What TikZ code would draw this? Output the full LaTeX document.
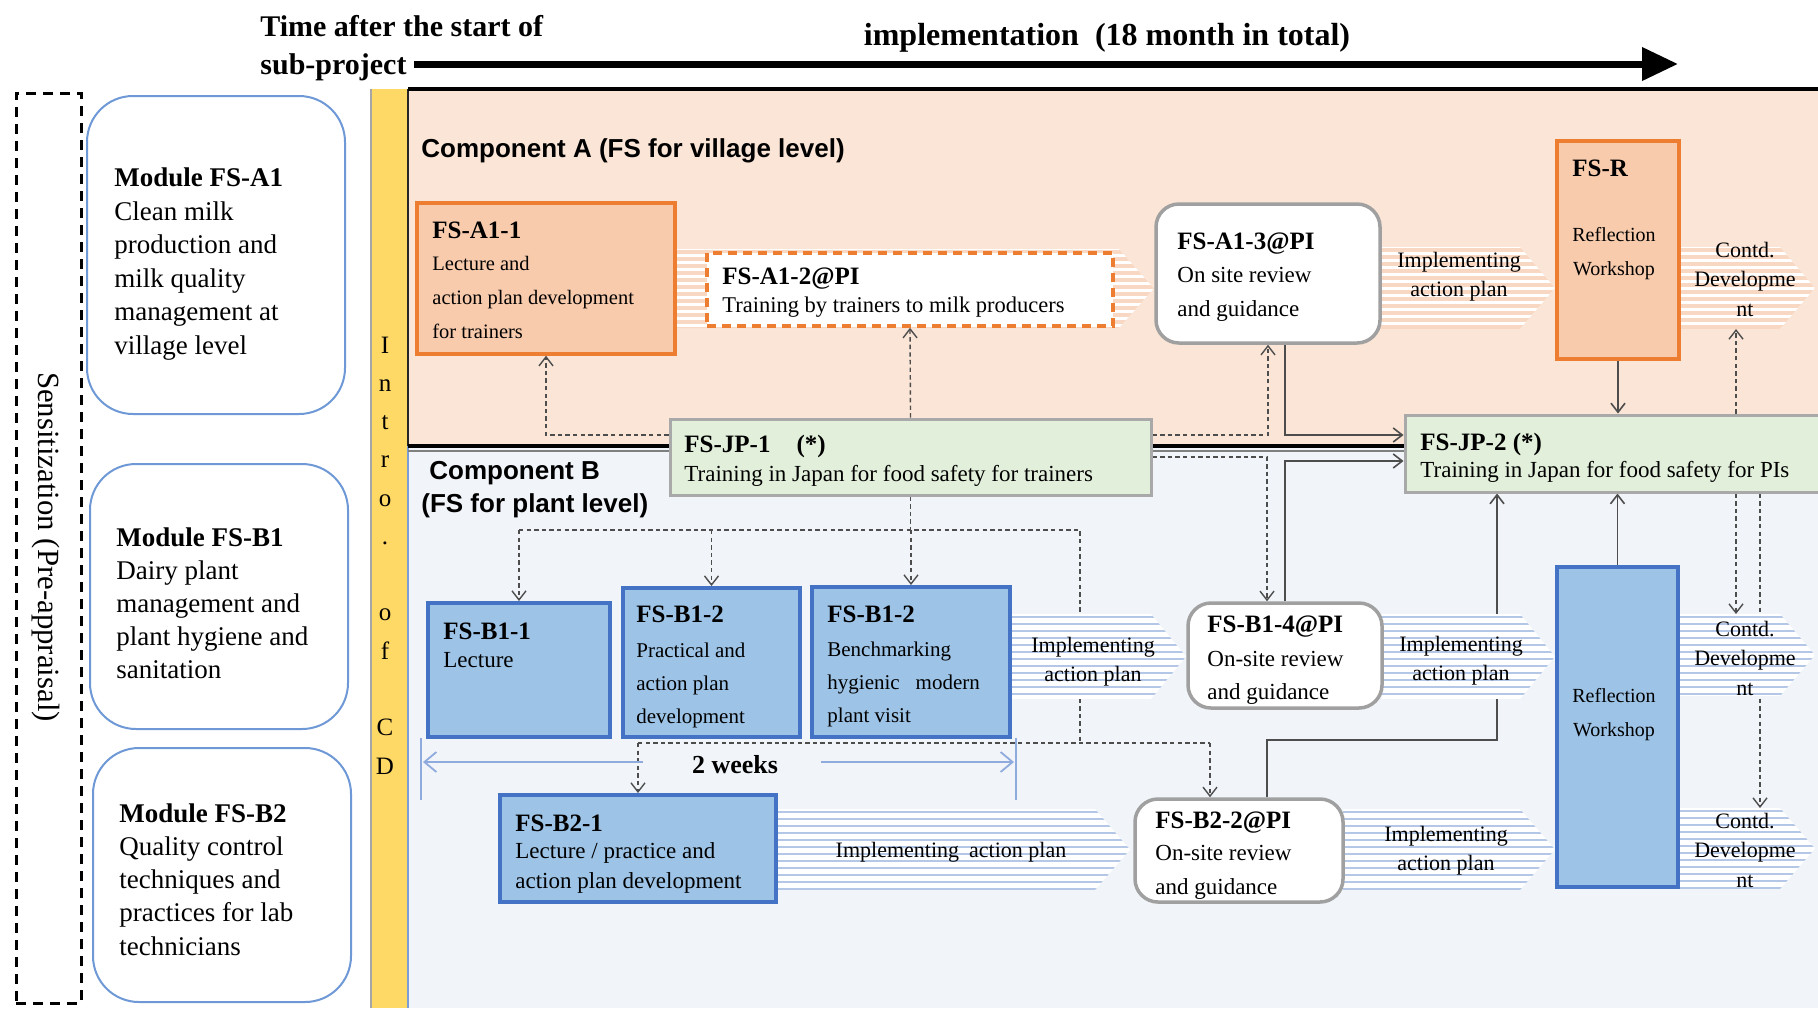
\documentclass[tikz,border=0pt]{standalone}
\usepackage{fontspec}
\setmainfont{Liberation Serif}
\setsansfont{Liberation Sans}
\usetikzlibrary{arrows.meta}

\definecolor{pinkP}{HTML}{FBE5D6}
\definecolor{blueP}{HTML}{F1F5FA}
\definecolor{yellowP}{HTML}{FFD966}
\definecolor{orangeB}{HTML}{ED7D31}
\definecolor{orangeF}{HTML}{F8CBAD}
\definecolor{greenF}{HTML}{E2EFDA}
\definecolor{grayG}{HTML}{A9A9A9}
\definecolor{grayB}{HTML}{A0A0A0}
\definecolor{blueF}{HTML}{9DC3E6}
\definecolor{blueB}{HTML}{4472C4}
\definecolor{modB}{HTML}{6E98D6}
\definecolor{weekC}{HTML}{8FAADC}
\definecolor{linkC}{HTML}{4D4D4D}
\definecolor{stripeB}{HTML}{B4C7E7}
\definecolor{stripeP}{HTML}{F9D8C3}

\pgfdeclarelayer{panels}
\pgfdeclarelayer{links}
\pgfsetlayers{panels,links,main}

\newcommand\fsz[2]{\fontsize{#1}{#2}\selectfont}
% box node spanning corner (#3,#4) to corner (#5,#6), pixel units
\newcommand\boxat[6]{\node[#1,inner sep=0pt,minimum width={(#5-#3)*0.5pt},minimum height={(#6-#4)*0.5pt}] (#2) at ({(#3+#5)/2},{(#4+#6)/2}) {};}
% striped arrow band: #1 ground, #2 stripe style, x from #3 to tip #4, y from #5 to #6
\newcommand\stripeband[6]{%
  \begin{scope}
    \clip (#3,#5) -- ({#4-35},#5) -- (#4,{(#5+#6)/2}) -- ({#4-35},#6) -- (#3,#6) -- cycle;
    \fill[#1] (#3,#5) rectangle (#4,#6);
    \foreach \k in {0,...,13}{\draw[#2] (#3,{#5+3+7*\k}) -- (#4,{#5+3+7*\k});}
  \end{scope}}

\begin{document}
\begin{tikzpicture}[x=0.5pt,y=-0.5pt,
  >={Straight Barb[length=4.5pt,width=7pt]},
  % multi-line text blocks are placed by the baseline of their last line
  tx/.style={anchor=base west,inner sep=0pt,align=left},
  ttl/.style={tx,font=\bfseries\fsz{12.5}{15}},
  ctext/.style={inner sep=0pt,align=center,font=\fsz{11}{14.5}},
  modbox/.style={draw=modB,fill=white,line width=1pt,rounded corners=23pt},
  sensbox/.style={draw=black,line width=1.5pt,dash pattern=on 5pt off 3.5pt},
  orangebox/.style={draw=orangeB,fill=orangeF,line width=1.75pt},
  dashbox/.style={draw=orangeB,fill=white,line width=1.75pt,dash pattern=on 4.5pt off 3pt},
  whitebox/.style={draw=grayB,fill=white,line width=1.75pt,rounded corners=11.5pt},
  greenbox/.style={draw=grayG,fill=greenF,line width=1.5pt},
  bluebox/.style={draw=blueB,fill=blueF,line width=2pt},
  pinkband/.style={draw=stripeP,line width=1.6pt},
  blueband/.style={draw=stripeB,line width=1pt},
  dlink/.style={draw=linkC,line width=0.7pt,dash pattern=on 2.2pt off 1.6pt},
  slink/.style={draw=linkC,line width=0.8pt},
  weekline/.style={draw=weekC,line width=0.9pt},
  weekarrow/.style={weekline,-{Straight Barb[length=6pt,width=10pt]}},
]
\useasboundingbox (0,0) rectangle (1818,1008);

% ---------- panels ----------
\begin{pgfonlayer}{panels}
  \fill[pinkP] (408,89) rectangle (1818,446);
  \fill[blueP] (408,446) rectangle (1818,1008);
  \fill[yellowP] (371,89) rectangle (408,1008);
  \draw[gray!70,line width=0.8pt] (371,89) -- (371,1008);
  \draw[black!85,line width=1pt] (408,89) -- (408,446);
  \draw[blueB!70,line width=1.2pt] (408,446) -- (408,1008);
  \draw[black,line width=2pt] (408,89) -- (1818,89);
  \draw[black,line width=2pt] (408,446) -- (1818,446);
  \draw[gray,line width=0.6pt] (408,451) -- (1818,451);
\end{pgfonlayer}

% ---------- time line header ----------
\node[tx,font=\bfseries\fsz{15}{18}] (hd1) at (260,36) {Time after the start of};
\node[tx,font=\bfseries\fsz{15}{18}] (hd2) at (260,74) {sub-project};
\node[inner sep=0pt,font=\bfseries\fsz{16}{18}] (impl) at (1107,38) {implementation\ \ (18 month in total)};
\coordinate (tStart) at (414,64);
\coordinate (tEnd) at (1678,64);
\draw[line width=3.5pt,-{Triangle[length=18pt,width=16pt]}] (tStart) -- (tEnd);

% ---------- left column ----------
\boxat{sensbox}{sens}{16}{93}{81}{1003}
\node[rotate=-90,inner sep=0pt,font=\fsz{15.4}{18}] (senst) at (46,547) {Sensitization (Pre-appraisal)};

\boxat{modbox}{modA1}{87}{96}{345}{414}
\boxat{modbox}{modB1}{90}{464}{348}{729}
\boxat{modbox}{modB2}{93}{748}{351}{1002}
\node[tx,font=\fsz{13.5}{16.8}] (modA1t) at (114,354.5) {\textbf{Module FS-A1}\\Clean milk\\production and\\milk quality\\management at\\village level};
\node[tx,font=\fsz{13.5}{16.5}] (modB1t) at (116,678) {\textbf{Module FS-B1}\\Dairy plant\\management and\\plant hygiene and\\sanitation};
\node[tx,font=\fsz{13.5}{16.6}] (modB2t) at (119,955) {\textbf{Module FS-B2}\\Quality control\\techniques and\\practices for lab\\technicians};

\node[anchor=base,align=center,inner sep=0pt,font=\fsz{12.5}{19.13}] (intro) at (385,774) {I\\n\\t\\r\\o\\.\\~\\o\\f\\~\\C\\D};

% ---------- component labels ----------
\node[anchor=west,inner sep=0pt,font=\sffamily\bfseries\fsz{13}{15}] (compA) at (421,151) {Component A (FS for village level)};
\node[anchor=west,inner sep=0pt,font=\sffamily\bfseries\fsz{13}{15}] (compB1) at (429,473) {Component B};
\node[anchor=west,inner sep=0pt,font=\sffamily\bfseries\fsz{13}{15}] (compB2) at (421,506) {(FS for plant level)};

% ---------- striped bands ----------
\stripeband{white}{pinkband}{675}{1154}{249}{328}
\stripeband{white}{pinkband}{1380}{1555}{247}{329}
\stripeband{white}{pinkband}{1679}{1815}{247}{329}
\stripeband{white}{blueband}{1010}{1186}{614}{699}
\stripeband{white}{blueband}{1382}{1555}{614}{699}
\stripeband{white}{blueband}{1678}{1815}{614}{696}
\stripeband{white}{blueband}{776}{1130}{809}{890}
\stripeband{white}{blueband}{1343}{1555}{809}{890}
\stripeband{white}{blueband}{1678}{1815}{808}{889}

\node[ctext] (tA2) at (1459,277) {Implementing\\action plan};
\node[ctext,font=\fsz{11}{14.75}] (tA3) at (1745,279) {Contd.\\Developme\\nt};
\node[ctext] (tB1) at (1093,661.5) {Implementing\\action plan};
\node[ctext] (tB2) at (1461,660.5) {Implementing\\action plan};
\node[ctext,font=\fsz{11}{14.75}] (tB3) at (1745,658) {Contd.\\Developme\\nt};
\node[ctext] (tB4) at (951,852) {Implementing\hspace{5pt}action plan};
\node[ctext] (tB5) at (1446,850.5) {Implementing\\action plan};
\node[ctext,font=\fsz{11}{14.75}] (tB6) at (1745,850) {Contd.\\Developme\\nt};

% ---------- component A boxes ----------
\boxat{orangebox}{a11}{417}{203}{675}{354}
\node[ttl] (a11t) at (432,238) {FS-A1-1};
\node[tx,font=\fsz{10.25}{17}] (a11b) at (432,338) {Lecture and\\action plan development\\for trainers};

\boxat{dashbox}{a12}{707}{253}{1113}{326}
\node[ttl] (a12t) at (722,284) {FS-A1-2@PI};
\node[tx,font=\fsz{11.25}{14}] (a12b) at (722,312) {Training by trainers to milk producers};

\boxat{whitebox}{a13}{1156}{204}{1380}{343}
\node[ttl] (a13t) at (1177,249) {FS-A1-3@PI};
\node[tx,font=\fsz{11.5}{17}] (a13b) at (1177,316.5) {On site review\\and guidance};

\boxat{orangebox}{fsr}{1557}{141}{1679}{359}
\node[ttl] (fsrt) at (1572,176) {FS-R};
\node[ctext,font=\fsz{10}{17}] (fsrb) at (1614,254) {Reflection\\Workshop};

% ---------- training in Japan ----------
\boxat{greenbox}{jp1}{670}{419}{1151}{495}
\node[ttl] (jp1t) at (684,452) {FS-JP-1\hspace{13pt}(*)};
\node[tx,font=\fsz{11.5}{14}] (jp1b) at (684,481.5) {Training in Japan for food safety for trainers};

\boxat{greenbox}{jp2}{1405}{415}{1822}{492}
\node[ttl] (jp2t) at (1420,450) {FS-JP-2 (*)};
\node[tx,font=\fsz{11.5}{14}] (jp2b) at (1420,477.5) {Training in Japan for food safety for PIs};

% ---------- component B boxes ----------
\boxat{bluebox}{b11}{428}{603}{610}{737}
\node[ttl] (b11t) at (443,639) {FS-B1-1};
\node[tx,font=\fsz{11.5}{14}] (b11b) at (443,667) {Lecture};

\boxat{bluebox}{b12}{623}{588}{800}{737}
\node[ttl] (b12t) at (636,622) {FS-B1-2};
\node[tx,font=\fsz{10.5}{16.5}] (b12b) at (636,723) {Practical and\\action plan\\development};

\boxat{bluebox}{b13}{812}{587}{1010}{737}
\node[ttl] (b13t) at (827,622) {FS-B1-2};
\node[tx,font=\fsz{10.5}{16.5}] (b13b) at (827,722) {Benchmarking\\hygienic\hspace{8pt}modern\\plant visit};

\boxat{whitebox}{b14}{1188}{603}{1382}{708}
\node[ttl] (b14t) at (1207,632) {FS-B1-4@PI};
\node[tx,font=\fsz{11.5}{16.5}] (b14b) at (1207,699.5) {On-site review\\and guidance};

\boxat{bluebox}{rw}{1557}{567}{1678}{887}
\node[ctext,font=\fsz{10}{17}] (rwb) at (1614,715) {Reflection\\Workshop};

\boxat{bluebox}{b21}{500}{795}{776}{902}
\node[ttl] (b21t) at (515,831) {FS-B2-1};
\node[tx,font=\fsz{11.5}{15}] (b21b) at (515,888.5) {Lecture / practice and\\action plan development};

\boxat{whitebox}{b22}{1135}{799}{1343}{902}
\node[ttl] (b22t) at (1155,828) {FS-B2-2@PI};
\node[tx,font=\fsz{11.5}{17}] (b22b) at (1155,894.5) {On-site review\\and guidance};

% ---------- two-week span ----------
\node[inner sep=0pt,font=\bfseries\fsz{13}{15}] (wk) at (735,765) {2 weeks};
\coordinate (wkTL) at (421,738);
\coordinate (wkBL) at (421,800);
\coordinate (wkTR) at (1016,738);
\coordinate (wkBR) at (1016,800);
\coordinate (wkAL) at (643,762);
\coordinate (wkEL) at (423,762);
\coordinate (wkAR) at (821,762);
\coordinate (wkER) at (1014,762);
\draw[weekline] (wkTL) -- (wkBL);
\draw[weekline] (wkTR) -- (wkBR);
\draw[weekarrow] (wkAL) -- (wkEL);
\draw[weekarrow] (wkAR) -- (wkER);

% ---------- connectors ----------
\coordinate (cA3b) at (1736,329);
\coordinate (cB3t) at (1736,614);
\coordinate (cB6t) at (1760,808);
\coordinate (bus1) at (1080,530);
\coordinate (bus2) at (1080,743);
\coordinate (jB) at (1497,740);

\begin{pgfonlayer}{links}
  % FS-JP-1 to component A
  \draw[dlink,->] ([yshift=11pt]jp1.west) -| (a11.south);
  \draw[dlink,->] (jp1.north) -- (a12.south);
  \draw[dlink,->] ([yshift=11pt]jp1.east) -| (a13.south);
  % FS-JP-1 to component B
  \draw[dlink] (jp1.south) -- (jp1.south |- bus1);
  \draw[dlink] (b11.north |- bus1) -- (bus1) -- (bus2);
  \draw[dlink,->] (b11.north |- bus1) -- (b11.north);
  \draw[dlink,->] (b12.north |- bus1) -- (b12.north);
  \draw[dlink,->] (b13.north |- bus1) -- (b13.north);
  \draw[dlink] (b21.north |- bus2) -- ([xshift=-14.5pt]b22.north |- bus2);
  \draw[dlink,->] (b21.north |- bus2) -- (b21.north);
  \draw[dlink,->] ([xshift=-14.5pt]b22.north |- bus2) -- ([xshift=-14.5pt]b22.north);
  \draw[dlink,->] (jp1.east) -| ([xshift=-9pt]b14.north);
  % on-site reviews feeding FS-JP-2
  \draw[slink,->] ([xshift=8.5pt]a13.south) |- ([yshift=9.25pt]jp2.west);
  \draw[slink,->] (b14.north) |- ([yshift=-3.75pt]jp2.west);
  \draw[slink,->] ([xshift=14pt]b22.north) |- (jB) -- (jB |- jp2.south);
  \draw[slink,->] (fsr.south) -- (fsr.south |- jp2.north);
  \draw[slink,->] (rw.north) -- (rw.north |- jp2.south);
  % FS-JP-2 to continued development
  \draw[dlink,->] (cA3b |- jp2.north) -- (cA3b);
  \draw[dlink,->] (cB3t |- jp2.south) -- (cB3t);
  \draw[dlink,->] (cB6t |- jp2.south) -- (cB6t);
\end{pgfonlayer}
\end{tikzpicture}
\end{document}
